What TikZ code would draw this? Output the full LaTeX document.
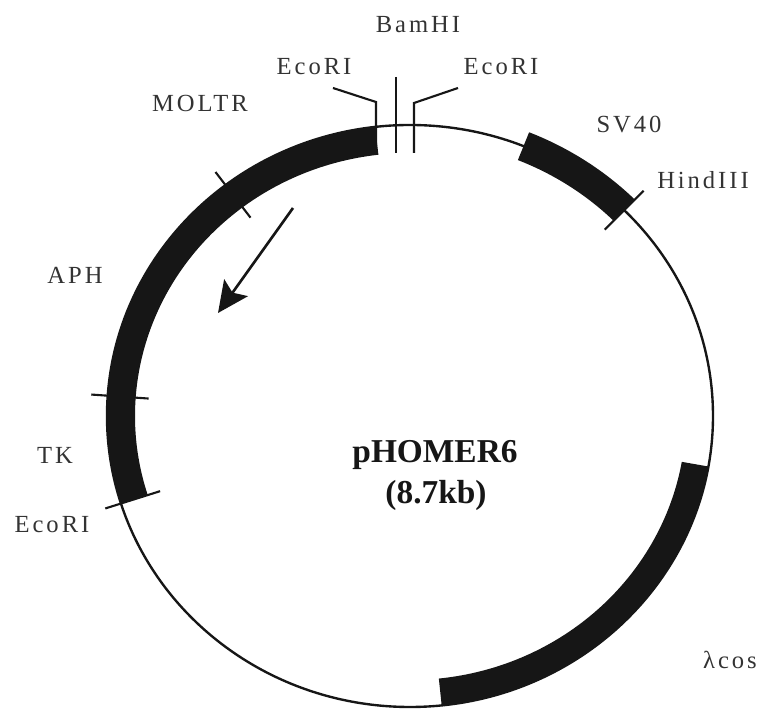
\documentclass[tikz,border=0pt]{standalone}
\usepackage{fontspec}
\setmainfont{Liberation Serif}
\usetikzlibrary{arrows.meta}

\begin{document}
\begin{tikzpicture}[
    every node/.style={font=\rmfamily},
]

% ---------------------------------------------------------------- colours
\definecolor{ink}{HTML}{161616}        % backbone, inserts, cut sites
\definecolor{labelcolor}{HTML}{333333} % site and insert names

% ---------------------------------------------------------------- styles
\tikzset{
    backbone/.style={draw=ink, line width=1.35pt},
    insert/.style={fill=ink},
    cutsite/.style={draw=ink, line width=1.2pt},
    tag/.style={
        text=labelcolor, inner sep=0pt,
        font=\fontsize{14}{16}\selectfont\addfontfeatures{LetterSpace=12},
    },
    title/.style={
        text=ink, inner sep=0pt,
        font=\fontsize{19}{22}\selectfont\bfseries,
    },
}

% ================================================================
% GEOMETRY
%   backbone   ellipse round the origin, radii 6.06 x 5.82
%   inserts    start / end angle, outer and inner offset
%   cut sites  short radial bars across the inserts
% ================================================================
\def\rx{6.06}
\def\ry{5.82}

\useasboundingbox (-8.2,-5.92) rectangle (7.06,8.32);

% ---------------------------------------------------------------- backbone
\coordinate (ori) at (0,0);
\draw[backbone] (ori) ellipse [x radius=\rx, y radius=\ry];

% ---------------------------------------------------------------- inserts
% MOLTR-APH-TK, SV40, lambda cos
\foreach \a/\b/\o/\i in {96.6/197.5/0/0.56, 68/45/0.3/0.3, -10/-84/0/0.54} {
    \pgfmathsetmacro\oxr{\rx+\o}
    \pgfmathsetmacro\oyr{\ry+\o}
    \pgfmathsetmacro\ixr{\rx-\i}
    \pgfmathsetmacro\iyr{\ry-\i}
    \fill[insert] (\a:\oxr cm and \oyr cm)
        arc[start angle=\a, end angle=\b, x radius=\oxr, y radius=\oyr]
        -- (\b:\ixr cm and \iyr cm)
        arc[start angle=\b, end angle=\a, x radius=\ixr, y radius=\iyr]
        -- cycle;
}

% ---------------------------------------------------------------- cut sites
\foreach \t/\p/\q in {127.5/0.33/0.82, 176/0.33/0.82, 197.5/0.33/0.82, 45/0.55/0.55} {
    \pgfmathsetmacro\pxr{\rx+\p}
    \pgfmathsetmacro\pyr{\ry+\p}
    \pgfmathsetmacro\qxr{\rx-\q}
    \pgfmathsetmacro\qyr{\ry-\q}
    \draw[cutsite] (\t:\pxr cm and \pyr cm) -- (\t:\qxr cm and \qyr cm);
}

% the polylinker at the top
\draw[cutsite] (-1.54,6.56) -- (-0.68,6.28) -- (-0.68,5.26);
\draw[cutsite] (-0.28,6.78) -- (-0.28,5.26);
\draw[cutsite] (0.96,6.56) -- (0.08,6.26) -- (0.08,5.26);

% ---------------------------------------------------------------- direction
\coordinate (dirS) at (-2.34,4.16);
\coordinate (dirE) at (-3.84,2.06);
\draw[-{Stealth[length=0.62cm, width=0.58cm, inset=0.12cm]}, ink, line width=1.5pt]
    (dirS) -- (dirE);

% ---------------------------------------------------------------- labels
\node[tag] (bam)    at (0.16, 7.82)  {BamHI};
\node[tag] (ecoL)   at (-1.92, 6.98) {EcoRI};
\node[tag] (ecoR)   at (1.82, 6.98)  {EcoRI};
\node[tag] (moltr)  at (-4.2, 6.26)  {MOLTR};
\node[tag] (sv)     at (4.38, 5.82)  {SV40};
\node[tag] (hind)   at (5.86, 4.72)  {HindIII};
\node[tag] (aph)    at (-6.7, 2.82)  {APH};
\node[tag] (tk)     at (-7.1, -0.78) {TK};
\node[tag] (ecoB)   at (-7.16, -2.18) {EcoRI};
\node[tag] (lcos)   at (6.4, -4.88)  {λcos};

\node[title] (name) at (0.5, -0.78) {pHOMER6};
\node[title] (size) at (0.52, -1.58) {(8.7kb)};

\end{tikzpicture}
\end{document}
